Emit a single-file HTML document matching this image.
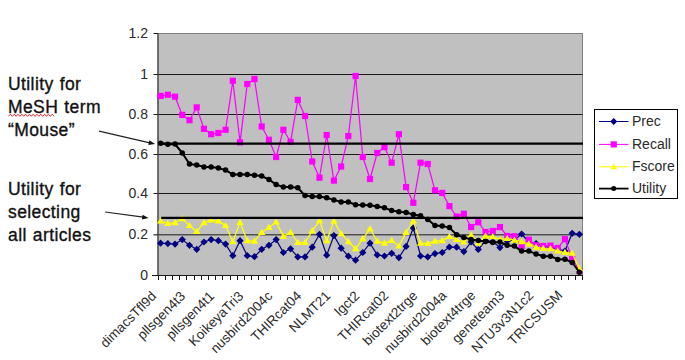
<!DOCTYPE html>
<html><head><meta charset="utf-8"><style>
html,body{margin:0;padding:0;background:#fff;}
body{width:685px;height:360px;overflow:hidden;position:relative;font-family:"Liberation Sans",sans-serif;}
svg{position:absolute;left:0;top:0;}
.ax{font-family:"Liberation Sans",sans-serif;font-size:14px;fill:#2a2a2a;}
.note{position:absolute;left:8px;font-size:17.5px;line-height:23px;color:#111;font-family:"Liberation Sans",sans-serif;white-space:nowrap;letter-spacing:0.4px;word-spacing:0.8px;-webkit-text-stroke:0.35px #111;}
.sq{text-decoration:underline wavy #e03030;text-decoration-thickness:1px;text-underline-offset:2px;}
</style></head><body>
<div class="note" style="top:73px">Utility for<br>MeSH term<br>&ldquo;Mouse&rdquo;</div>
<div class="note" style="top:178px">Utility for<br>selecting<br>all articles</div>
<svg width="685" height="360" viewBox="0 0 685 360">
<rect x="158" y="33.5" width="424.5" height="242" fill="#c0c0c0" stroke="#808080" stroke-width="1"/>
<line x1="153.5" y1="74.5" x2="582.5" y2="74.5" stroke="#1a1a1a" stroke-width="1"/>
<line x1="153.5" y1="114.5" x2="582.5" y2="114.5" stroke="#1a1a1a" stroke-width="1"/>
<line x1="153.5" y1="154.5" x2="582.5" y2="154.5" stroke="#1a1a1a" stroke-width="1"/>
<line x1="153.5" y1="193.5" x2="582.5" y2="193.5" stroke="#1a1a1a" stroke-width="1"/>
<line x1="153.5" y1="234.8" x2="582.5" y2="234.8" stroke="#505050" stroke-width="1.5"/>
<line x1="153.5" y1="33.5" x2="158" y2="33.5" stroke="#1a1a1a" stroke-width="1"/>
<line x1="158" y1="33" x2="158" y2="276" stroke="#404040" stroke-width="1.2"/>
<line x1="152" y1="275.5" x2="582.5" y2="275.5" stroke="#1a1a1a" stroke-width="1"/>
<line x1="158.5" y1="275" x2="158.5" y2="280" stroke="#1a1a1a" stroke-width="1"/>
<line x1="165.5" y1="275" x2="165.5" y2="280" stroke="#1a1a1a" stroke-width="1"/>
<line x1="172.5" y1="275" x2="172.5" y2="280" stroke="#1a1a1a" stroke-width="1"/>
<line x1="179.5" y1="275" x2="179.5" y2="280" stroke="#1a1a1a" stroke-width="1"/>
<line x1="186.5" y1="275" x2="186.5" y2="280" stroke="#1a1a1a" stroke-width="1"/>
<line x1="194.5" y1="275" x2="194.5" y2="280" stroke="#1a1a1a" stroke-width="1"/>
<line x1="201.5" y1="275" x2="201.5" y2="280" stroke="#1a1a1a" stroke-width="1"/>
<line x1="208.5" y1="275" x2="208.5" y2="280" stroke="#1a1a1a" stroke-width="1"/>
<line x1="215.5" y1="275" x2="215.5" y2="280" stroke="#1a1a1a" stroke-width="1"/>
<line x1="222.5" y1="275" x2="222.5" y2="280" stroke="#1a1a1a" stroke-width="1"/>
<line x1="230.5" y1="275" x2="230.5" y2="280" stroke="#1a1a1a" stroke-width="1"/>
<line x1="237.5" y1="275" x2="237.5" y2="280" stroke="#1a1a1a" stroke-width="1"/>
<line x1="244.5" y1="275" x2="244.5" y2="280" stroke="#1a1a1a" stroke-width="1"/>
<line x1="251.5" y1="275" x2="251.5" y2="280" stroke="#1a1a1a" stroke-width="1"/>
<line x1="258.5" y1="275" x2="258.5" y2="280" stroke="#1a1a1a" stroke-width="1"/>
<line x1="266.5" y1="275" x2="266.5" y2="280" stroke="#1a1a1a" stroke-width="1"/>
<line x1="273.5" y1="275" x2="273.5" y2="280" stroke="#1a1a1a" stroke-width="1"/>
<line x1="280.5" y1="275" x2="280.5" y2="280" stroke="#1a1a1a" stroke-width="1"/>
<line x1="287.5" y1="275" x2="287.5" y2="280" stroke="#1a1a1a" stroke-width="1"/>
<line x1="294.5" y1="275" x2="294.5" y2="280" stroke="#1a1a1a" stroke-width="1"/>
<line x1="302.5" y1="275" x2="302.5" y2="280" stroke="#1a1a1a" stroke-width="1"/>
<line x1="309.5" y1="275" x2="309.5" y2="280" stroke="#1a1a1a" stroke-width="1"/>
<line x1="316.5" y1="275" x2="316.5" y2="280" stroke="#1a1a1a" stroke-width="1"/>
<line x1="323.5" y1="275" x2="323.5" y2="280" stroke="#1a1a1a" stroke-width="1"/>
<line x1="330.5" y1="275" x2="330.5" y2="280" stroke="#1a1a1a" stroke-width="1"/>
<line x1="338.5" y1="275" x2="338.5" y2="280" stroke="#1a1a1a" stroke-width="1"/>
<line x1="345.5" y1="275" x2="345.5" y2="280" stroke="#1a1a1a" stroke-width="1"/>
<line x1="352.5" y1="275" x2="352.5" y2="280" stroke="#1a1a1a" stroke-width="1"/>
<line x1="359.5" y1="275" x2="359.5" y2="280" stroke="#1a1a1a" stroke-width="1"/>
<line x1="366.5" y1="275" x2="366.5" y2="280" stroke="#1a1a1a" stroke-width="1"/>
<line x1="374.5" y1="275" x2="374.5" y2="280" stroke="#1a1a1a" stroke-width="1"/>
<line x1="381.5" y1="275" x2="381.5" y2="280" stroke="#1a1a1a" stroke-width="1"/>
<line x1="388.5" y1="275" x2="388.5" y2="280" stroke="#1a1a1a" stroke-width="1"/>
<line x1="395.5" y1="275" x2="395.5" y2="280" stroke="#1a1a1a" stroke-width="1"/>
<line x1="402.5" y1="275" x2="402.5" y2="280" stroke="#1a1a1a" stroke-width="1"/>
<line x1="410.5" y1="275" x2="410.5" y2="280" stroke="#1a1a1a" stroke-width="1"/>
<line x1="417.5" y1="275" x2="417.5" y2="280" stroke="#1a1a1a" stroke-width="1"/>
<line x1="424.5" y1="275" x2="424.5" y2="280" stroke="#1a1a1a" stroke-width="1"/>
<line x1="431.5" y1="275" x2="431.5" y2="280" stroke="#1a1a1a" stroke-width="1"/>
<line x1="438.5" y1="275" x2="438.5" y2="280" stroke="#1a1a1a" stroke-width="1"/>
<line x1="446.5" y1="275" x2="446.5" y2="280" stroke="#1a1a1a" stroke-width="1"/>
<line x1="453.5" y1="275" x2="453.5" y2="280" stroke="#1a1a1a" stroke-width="1"/>
<line x1="460.5" y1="275" x2="460.5" y2="280" stroke="#1a1a1a" stroke-width="1"/>
<line x1="467.5" y1="275" x2="467.5" y2="280" stroke="#1a1a1a" stroke-width="1"/>
<line x1="474.5" y1="275" x2="474.5" y2="280" stroke="#1a1a1a" stroke-width="1"/>
<line x1="482.5" y1="275" x2="482.5" y2="280" stroke="#1a1a1a" stroke-width="1"/>
<line x1="489.5" y1="275" x2="489.5" y2="280" stroke="#1a1a1a" stroke-width="1"/>
<line x1="496.5" y1="275" x2="496.5" y2="280" stroke="#1a1a1a" stroke-width="1"/>
<line x1="503.5" y1="275" x2="503.5" y2="280" stroke="#1a1a1a" stroke-width="1"/>
<line x1="510.5" y1="275" x2="510.5" y2="280" stroke="#1a1a1a" stroke-width="1"/>
<line x1="518.5" y1="275" x2="518.5" y2="280" stroke="#1a1a1a" stroke-width="1"/>
<line x1="525.5" y1="275" x2="525.5" y2="280" stroke="#1a1a1a" stroke-width="1"/>
<line x1="532.5" y1="275" x2="532.5" y2="280" stroke="#1a1a1a" stroke-width="1"/>
<line x1="539.5" y1="275" x2="539.5" y2="280" stroke="#1a1a1a" stroke-width="1"/>
<line x1="546.5" y1="275" x2="546.5" y2="280" stroke="#1a1a1a" stroke-width="1"/>
<line x1="554.5" y1="275" x2="554.5" y2="280" stroke="#1a1a1a" stroke-width="1"/>
<line x1="561.5" y1="275" x2="561.5" y2="280" stroke="#1a1a1a" stroke-width="1"/>
<line x1="568.5" y1="275" x2="568.5" y2="280" stroke="#1a1a1a" stroke-width="1"/>
<line x1="575.5" y1="275" x2="575.5" y2="280" stroke="#1a1a1a" stroke-width="1"/>
<line x1="582.5" y1="275" x2="582.5" y2="280" stroke="#1a1a1a" stroke-width="1"/>
<polyline points="160.61,243.2 167.83,243.6 175.05,244.1 182.27,239.6 189.49,245.3 196.71,249.3 203.93,242 211.15,239.6 218.37,240.7 225.59,244.1 232.81,255.7 240.03,240.7 247.25,255.7 254.47,256.7 261.69,249.3 268.92,245.3 276.14,239.6 283.36,252.5 290.58,248.8 297.8,256.9 305.02,256.9 312.24,247.2 319.46,234.3 326.68,255.2 333.9,235.6 341.12,248.2 348.34,256.2 355.56,260.2 362.78,252.5 370,243.2 377.22,254.9 384.44,256 391.66,253.3 398.88,257.7 406.1,246.4 413.32,228 420.54,256 427.76,256.9 434.98,253.6 442.2,252.5 449.42,247 456.64,247.2 463.86,251.6 471.08,242 478.31,249.5 485.53,240.5 492.75,241.5 499.97,247.6 507.19,241 514.41,240 521.63,234 528.85,242 536.07,243.5 543.29,246.5 550.51,247 557.73,249 564.95,251 572.17,233.3 579.39,234.3" fill="none" stroke="#000080" stroke-width="1.2" stroke-linejoin="round"/>
<path d="M160.61 239.6L164.21 243.2L160.61 246.8L157.01 243.2Z" fill="#000080"/>
<path d="M167.83 240L171.43 243.6L167.83 247.2L164.23 243.6Z" fill="#000080"/>
<path d="M175.05 240.5L178.65 244.1L175.05 247.7L171.45 244.1Z" fill="#000080"/>
<path d="M182.27 236L185.87 239.6L182.27 243.2L178.67 239.6Z" fill="#000080"/>
<path d="M189.49 241.7L193.09 245.3L189.49 248.9L185.89 245.3Z" fill="#000080"/>
<path d="M196.71 245.7L200.31 249.3L196.71 252.9L193.11 249.3Z" fill="#000080"/>
<path d="M203.93 238.4L207.53 242L203.93 245.6L200.33 242Z" fill="#000080"/>
<path d="M211.15 236L214.75 239.6L211.15 243.2L207.55 239.6Z" fill="#000080"/>
<path d="M218.37 237.1L221.97 240.7L218.37 244.3L214.77 240.7Z" fill="#000080"/>
<path d="M225.59 240.5L229.19 244.1L225.59 247.7L221.99 244.1Z" fill="#000080"/>
<path d="M232.81 252.1L236.41 255.7L232.81 259.3L229.21 255.7Z" fill="#000080"/>
<path d="M240.03 237.1L243.63 240.7L240.03 244.3L236.43 240.7Z" fill="#000080"/>
<path d="M247.25 252.1L250.85 255.7L247.25 259.3L243.65 255.7Z" fill="#000080"/>
<path d="M254.47 253.1L258.07 256.7L254.47 260.3L250.87 256.7Z" fill="#000080"/>
<path d="M261.69 245.7L265.29 249.3L261.69 252.9L258.09 249.3Z" fill="#000080"/>
<path d="M268.92 241.7L272.52 245.3L268.92 248.9L265.32 245.3Z" fill="#000080"/>
<path d="M276.14 236L279.74 239.6L276.14 243.2L272.54 239.6Z" fill="#000080"/>
<path d="M283.36 248.9L286.96 252.5L283.36 256.1L279.76 252.5Z" fill="#000080"/>
<path d="M290.58 245.2L294.18 248.8L290.58 252.4L286.98 248.8Z" fill="#000080"/>
<path d="M297.8 253.3L301.4 256.9L297.8 260.5L294.2 256.9Z" fill="#000080"/>
<path d="M305.02 253.3L308.62 256.9L305.02 260.5L301.42 256.9Z" fill="#000080"/>
<path d="M312.24 243.6L315.84 247.2L312.24 250.8L308.64 247.2Z" fill="#000080"/>
<path d="M319.46 230.7L323.06 234.3L319.46 237.9L315.86 234.3Z" fill="#000080"/>
<path d="M326.68 251.6L330.28 255.2L326.68 258.8L323.08 255.2Z" fill="#000080"/>
<path d="M333.9 232L337.5 235.6L333.9 239.2L330.3 235.6Z" fill="#000080"/>
<path d="M341.12 244.6L344.72 248.2L341.12 251.8L337.52 248.2Z" fill="#000080"/>
<path d="M348.34 252.6L351.94 256.2L348.34 259.8L344.74 256.2Z" fill="#000080"/>
<path d="M355.56 256.6L359.16 260.2L355.56 263.8L351.96 260.2Z" fill="#000080"/>
<path d="M362.78 248.9L366.38 252.5L362.78 256.1L359.18 252.5Z" fill="#000080"/>
<path d="M370 239.6L373.6 243.2L370 246.8L366.4 243.2Z" fill="#000080"/>
<path d="M377.22 251.3L380.82 254.9L377.22 258.5L373.62 254.9Z" fill="#000080"/>
<path d="M384.44 252.4L388.04 256L384.44 259.6L380.84 256Z" fill="#000080"/>
<path d="M391.66 249.7L395.26 253.3L391.66 256.9L388.06 253.3Z" fill="#000080"/>
<path d="M398.88 254.1L402.48 257.7L398.88 261.3L395.28 257.7Z" fill="#000080"/>
<path d="M406.1 242.8L409.7 246.4L406.1 250L402.5 246.4Z" fill="#000080"/>
<path d="M413.32 224.4L416.92 228L413.32 231.6L409.72 228Z" fill="#000080"/>
<path d="M420.54 252.4L424.14 256L420.54 259.6L416.94 256Z" fill="#000080"/>
<path d="M427.76 253.3L431.36 256.9L427.76 260.5L424.16 256.9Z" fill="#000080"/>
<path d="M434.98 250L438.58 253.6L434.98 257.2L431.38 253.6Z" fill="#000080"/>
<path d="M442.2 248.9L445.8 252.5L442.2 256.1L438.6 252.5Z" fill="#000080"/>
<path d="M449.42 243.4L453.02 247L449.42 250.6L445.82 247Z" fill="#000080"/>
<path d="M456.64 243.6L460.24 247.2L456.64 250.8L453.04 247.2Z" fill="#000080"/>
<path d="M463.86 248L467.46 251.6L463.86 255.2L460.26 251.6Z" fill="#000080"/>
<path d="M471.08 238.4L474.68 242L471.08 245.6L467.48 242Z" fill="#000080"/>
<path d="M478.31 245.9L481.91 249.5L478.31 253.1L474.71 249.5Z" fill="#000080"/>
<path d="M485.53 236.9L489.13 240.5L485.53 244.1L481.93 240.5Z" fill="#000080"/>
<path d="M492.75 237.9L496.35 241.5L492.75 245.1L489.15 241.5Z" fill="#000080"/>
<path d="M499.97 244L503.57 247.6L499.97 251.2L496.37 247.6Z" fill="#000080"/>
<path d="M507.19 237.4L510.79 241L507.19 244.6L503.59 241Z" fill="#000080"/>
<path d="M514.41 236.4L518.01 240L514.41 243.6L510.81 240Z" fill="#000080"/>
<path d="M521.63 230.4L525.23 234L521.63 237.6L518.03 234Z" fill="#000080"/>
<path d="M528.85 238.4L532.45 242L528.85 245.6L525.25 242Z" fill="#000080"/>
<path d="M536.07 239.9L539.67 243.5L536.07 247.1L532.47 243.5Z" fill="#000080"/>
<path d="M543.29 242.9L546.89 246.5L543.29 250.1L539.69 246.5Z" fill="#000080"/>
<path d="M550.51 243.4L554.11 247L550.51 250.6L546.91 247Z" fill="#000080"/>
<path d="M557.73 245.4L561.33 249L557.73 252.6L554.13 249Z" fill="#000080"/>
<path d="M564.95 247.4L568.55 251L564.95 254.6L561.35 251Z" fill="#000080"/>
<path d="M572.17 229.7L575.77 233.3L572.17 236.9L568.57 233.3Z" fill="#000080"/>
<path d="M579.39 230.7L582.99 234.3L579.39 237.9L575.79 234.3Z" fill="#000080"/>
<polyline points="160.61,95.9 167.83,94.8 175.05,96.7 182.27,114.9 189.49,120.2 196.71,107.4 203.93,128.8 211.15,134.2 218.37,133 225.59,129.8 232.81,80.8 240.03,142.3 247.25,84 254.47,79 261.69,126.5 268.92,139.8 276.14,157 283.36,129.8 290.58,141.9 297.8,99.9 305.02,116 312.24,161.5 319.46,177.7 326.68,135 333.9,180.6 341.12,166.5 348.34,136.1 355.56,76 362.78,157 370,179 377.22,153 384.44,147.1 391.66,162.7 398.88,134.2 406.1,187.1 413.32,202.8 420.54,162.7 427.76,164 434.98,190.3 442.2,192.9 449.42,206.1 456.64,216.6 463.86,213.8 471.08,227 478.31,222.3 485.53,232 492.75,231 499.97,227.1 507.19,236 514.41,236.2 521.63,246.1 528.85,239.7 536.07,245.3 543.29,246 550.51,245.6 557.73,248 564.95,239.2 572.17,258.4 579.39,271" fill="none" stroke="#ff00ff" stroke-width="1.25" stroke-linejoin="round"/>
<rect x="157.51" y="92.8" width="6.2" height="6.2" fill="#ff00ff"/>
<rect x="164.73" y="91.7" width="6.2" height="6.2" fill="#ff00ff"/>
<rect x="171.95" y="93.6" width="6.2" height="6.2" fill="#ff00ff"/>
<rect x="179.17" y="111.8" width="6.2" height="6.2" fill="#ff00ff"/>
<rect x="186.39" y="117.1" width="6.2" height="6.2" fill="#ff00ff"/>
<rect x="193.61" y="104.3" width="6.2" height="6.2" fill="#ff00ff"/>
<rect x="200.83" y="125.7" width="6.2" height="6.2" fill="#ff00ff"/>
<rect x="208.05" y="131.1" width="6.2" height="6.2" fill="#ff00ff"/>
<rect x="215.27" y="129.9" width="6.2" height="6.2" fill="#ff00ff"/>
<rect x="222.49" y="126.7" width="6.2" height="6.2" fill="#ff00ff"/>
<rect x="229.71" y="77.7" width="6.2" height="6.2" fill="#ff00ff"/>
<rect x="236.93" y="139.2" width="6.2" height="6.2" fill="#ff00ff"/>
<rect x="244.15" y="80.9" width="6.2" height="6.2" fill="#ff00ff"/>
<rect x="251.37" y="75.9" width="6.2" height="6.2" fill="#ff00ff"/>
<rect x="258.59" y="123.4" width="6.2" height="6.2" fill="#ff00ff"/>
<rect x="265.82" y="136.7" width="6.2" height="6.2" fill="#ff00ff"/>
<rect x="273.04" y="153.9" width="6.2" height="6.2" fill="#ff00ff"/>
<rect x="280.26" y="126.7" width="6.2" height="6.2" fill="#ff00ff"/>
<rect x="287.48" y="138.8" width="6.2" height="6.2" fill="#ff00ff"/>
<rect x="294.7" y="96.8" width="6.2" height="6.2" fill="#ff00ff"/>
<rect x="301.92" y="112.9" width="6.2" height="6.2" fill="#ff00ff"/>
<rect x="309.14" y="158.4" width="6.2" height="6.2" fill="#ff00ff"/>
<rect x="316.36" y="174.6" width="6.2" height="6.2" fill="#ff00ff"/>
<rect x="323.58" y="131.9" width="6.2" height="6.2" fill="#ff00ff"/>
<rect x="330.8" y="177.5" width="6.2" height="6.2" fill="#ff00ff"/>
<rect x="338.02" y="163.4" width="6.2" height="6.2" fill="#ff00ff"/>
<rect x="345.24" y="133" width="6.2" height="6.2" fill="#ff00ff"/>
<rect x="352.46" y="72.9" width="6.2" height="6.2" fill="#ff00ff"/>
<rect x="359.68" y="153.9" width="6.2" height="6.2" fill="#ff00ff"/>
<rect x="366.9" y="175.9" width="6.2" height="6.2" fill="#ff00ff"/>
<rect x="374.12" y="149.9" width="6.2" height="6.2" fill="#ff00ff"/>
<rect x="381.34" y="144" width="6.2" height="6.2" fill="#ff00ff"/>
<rect x="388.56" y="159.6" width="6.2" height="6.2" fill="#ff00ff"/>
<rect x="395.78" y="131.1" width="6.2" height="6.2" fill="#ff00ff"/>
<rect x="403" y="184" width="6.2" height="6.2" fill="#ff00ff"/>
<rect x="410.22" y="199.7" width="6.2" height="6.2" fill="#ff00ff"/>
<rect x="417.44" y="159.6" width="6.2" height="6.2" fill="#ff00ff"/>
<rect x="424.66" y="160.9" width="6.2" height="6.2" fill="#ff00ff"/>
<rect x="431.88" y="187.2" width="6.2" height="6.2" fill="#ff00ff"/>
<rect x="439.1" y="189.8" width="6.2" height="6.2" fill="#ff00ff"/>
<rect x="446.32" y="203" width="6.2" height="6.2" fill="#ff00ff"/>
<rect x="453.54" y="213.5" width="6.2" height="6.2" fill="#ff00ff"/>
<rect x="460.76" y="210.7" width="6.2" height="6.2" fill="#ff00ff"/>
<rect x="467.98" y="223.9" width="6.2" height="6.2" fill="#ff00ff"/>
<rect x="475.21" y="219.2" width="6.2" height="6.2" fill="#ff00ff"/>
<rect x="482.43" y="228.9" width="6.2" height="6.2" fill="#ff00ff"/>
<rect x="489.65" y="227.9" width="6.2" height="6.2" fill="#ff00ff"/>
<rect x="496.87" y="224" width="6.2" height="6.2" fill="#ff00ff"/>
<rect x="504.09" y="232.9" width="6.2" height="6.2" fill="#ff00ff"/>
<rect x="511.31" y="233.1" width="6.2" height="6.2" fill="#ff00ff"/>
<rect x="518.53" y="243" width="6.2" height="6.2" fill="#ff00ff"/>
<rect x="525.75" y="236.6" width="6.2" height="6.2" fill="#ff00ff"/>
<rect x="532.97" y="242.2" width="6.2" height="6.2" fill="#ff00ff"/>
<rect x="540.19" y="242.9" width="6.2" height="6.2" fill="#ff00ff"/>
<rect x="547.41" y="242.5" width="6.2" height="6.2" fill="#ff00ff"/>
<rect x="554.63" y="244.9" width="6.2" height="6.2" fill="#ff00ff"/>
<rect x="561.85" y="236.1" width="6.2" height="6.2" fill="#ff00ff"/>
<rect x="569.07" y="255.3" width="6.2" height="6.2" fill="#ff00ff"/>
<rect x="576.29" y="267.9" width="6.2" height="6.2" fill="#ff00ff"/>
<polyline points="160.61,221.1 167.83,223.5 175.05,222.7 182.27,218.7 189.49,225.6 196.71,231.6 203.93,222.7 211.15,220 218.37,221.1 225.59,225.6 232.81,241.7 240.03,222.4 247.25,240.7 254.47,241.2 261.69,232.4 268.92,227.5 276.14,221.9 283.36,236.4 290.58,232.4 297.8,242.5 305.02,242.5 312.24,230.8 319.46,220.8 326.68,240.7 333.9,221.1 341.12,233.7 348.34,241.7 355.56,248.8 362.78,238.8 370,228.8 377.22,241.2 384.44,243.2 391.66,240.4 398.88,246.1 406.1,232.4 413.32,221.1 420.54,243.2 427.76,243.6 434.98,241.2 442.2,240.7 449.42,236.6 456.64,239.5 463.86,242 471.08,235.3 478.31,243 485.53,236.3 492.75,236.8 499.97,239.4 507.19,238.6 514.41,240.2 521.63,241.7 528.85,243.9 536.07,247.2 543.29,248.5 550.51,248.8 557.73,251 564.95,252.5 572.17,253.3 579.39,268.5" fill="none" stroke="#ffff00" stroke-width="1.25" stroke-linejoin="round"/>
<path d="M160.61 217.4L164.31 223.6L156.91 223.6Z" fill="#ffff00"/>
<path d="M167.83 219.8L171.53 226L164.13 226Z" fill="#ffff00"/>
<path d="M175.05 219L178.75 225.2L171.35 225.2Z" fill="#ffff00"/>
<path d="M182.27 215L185.97 221.2L178.57 221.2Z" fill="#ffff00"/>
<path d="M189.49 221.9L193.19 228.1L185.79 228.1Z" fill="#ffff00"/>
<path d="M196.71 227.9L200.41 234.1L193.01 234.1Z" fill="#ffff00"/>
<path d="M203.93 219L207.63 225.2L200.23 225.2Z" fill="#ffff00"/>
<path d="M211.15 216.3L214.85 222.5L207.45 222.5Z" fill="#ffff00"/>
<path d="M218.37 217.4L222.07 223.6L214.67 223.6Z" fill="#ffff00"/>
<path d="M225.59 221.9L229.29 228.1L221.89 228.1Z" fill="#ffff00"/>
<path d="M232.81 238L236.51 244.2L229.11 244.2Z" fill="#ffff00"/>
<path d="M240.03 218.7L243.73 224.9L236.33 224.9Z" fill="#ffff00"/>
<path d="M247.25 237L250.95 243.2L243.55 243.2Z" fill="#ffff00"/>
<path d="M254.47 237.5L258.17 243.7L250.77 243.7Z" fill="#ffff00"/>
<path d="M261.69 228.7L265.39 234.9L257.99 234.9Z" fill="#ffff00"/>
<path d="M268.92 223.8L272.62 230L265.22 230Z" fill="#ffff00"/>
<path d="M276.14 218.2L279.84 224.4L272.44 224.4Z" fill="#ffff00"/>
<path d="M283.36 232.7L287.06 238.9L279.66 238.9Z" fill="#ffff00"/>
<path d="M290.58 228.7L294.28 234.9L286.88 234.9Z" fill="#ffff00"/>
<path d="M297.8 238.8L301.5 245L294.1 245Z" fill="#ffff00"/>
<path d="M305.02 238.8L308.72 245L301.32 245Z" fill="#ffff00"/>
<path d="M312.24 227.1L315.94 233.3L308.54 233.3Z" fill="#ffff00"/>
<path d="M319.46 217.1L323.16 223.3L315.76 223.3Z" fill="#ffff00"/>
<path d="M326.68 237L330.38 243.2L322.98 243.2Z" fill="#ffff00"/>
<path d="M333.9 217.4L337.6 223.6L330.2 223.6Z" fill="#ffff00"/>
<path d="M341.12 230L344.82 236.2L337.42 236.2Z" fill="#ffff00"/>
<path d="M348.34 238L352.04 244.2L344.64 244.2Z" fill="#ffff00"/>
<path d="M355.56 245.1L359.26 251.3L351.86 251.3Z" fill="#ffff00"/>
<path d="M362.78 235.1L366.48 241.3L359.08 241.3Z" fill="#ffff00"/>
<path d="M370 225.1L373.7 231.3L366.3 231.3Z" fill="#ffff00"/>
<path d="M377.22 237.5L380.92 243.7L373.52 243.7Z" fill="#ffff00"/>
<path d="M384.44 239.5L388.14 245.7L380.74 245.7Z" fill="#ffff00"/>
<path d="M391.66 236.7L395.36 242.9L387.96 242.9Z" fill="#ffff00"/>
<path d="M398.88 242.4L402.58 248.6L395.18 248.6Z" fill="#ffff00"/>
<path d="M406.1 228.7L409.8 234.9L402.4 234.9Z" fill="#ffff00"/>
<path d="M413.32 217.4L417.02 223.6L409.62 223.6Z" fill="#ffff00"/>
<path d="M420.54 239.5L424.24 245.7L416.84 245.7Z" fill="#ffff00"/>
<path d="M427.76 239.9L431.46 246.1L424.06 246.1Z" fill="#ffff00"/>
<path d="M434.98 237.5L438.68 243.7L431.28 243.7Z" fill="#ffff00"/>
<path d="M442.2 237L445.9 243.2L438.5 243.2Z" fill="#ffff00"/>
<path d="M449.42 232.9L453.12 239.1L445.72 239.1Z" fill="#ffff00"/>
<path d="M456.64 235.8L460.34 242L452.94 242Z" fill="#ffff00"/>
<path d="M463.86 238.3L467.56 244.5L460.16 244.5Z" fill="#ffff00"/>
<path d="M471.08 231.6L474.78 237.8L467.38 237.8Z" fill="#ffff00"/>
<path d="M478.31 239.3L482.01 245.5L474.61 245.5Z" fill="#ffff00"/>
<path d="M485.53 232.6L489.23 238.8L481.83 238.8Z" fill="#ffff00"/>
<path d="M492.75 233.1L496.45 239.3L489.05 239.3Z" fill="#ffff00"/>
<path d="M499.97 235.7L503.67 241.9L496.27 241.9Z" fill="#ffff00"/>
<path d="M507.19 234.9L510.89 241.1L503.49 241.1Z" fill="#ffff00"/>
<path d="M514.41 236.5L518.11 242.7L510.71 242.7Z" fill="#ffff00"/>
<path d="M521.63 238L525.33 244.2L517.93 244.2Z" fill="#ffff00"/>
<path d="M528.85 240.2L532.55 246.4L525.15 246.4Z" fill="#ffff00"/>
<path d="M536.07 243.5L539.77 249.7L532.37 249.7Z" fill="#ffff00"/>
<path d="M543.29 244.8L546.99 251L539.59 251Z" fill="#ffff00"/>
<path d="M550.51 245.1L554.21 251.3L546.81 251.3Z" fill="#ffff00"/>
<path d="M557.73 247.3L561.43 253.5L554.03 253.5Z" fill="#ffff00"/>
<path d="M564.95 248.8L568.65 255L561.25 255Z" fill="#ffff00"/>
<path d="M572.17 249.6L575.87 255.8L568.47 255.8Z" fill="#ffff00"/>
<path d="M579.39 264.8L583.09 271L575.69 271Z" fill="#ffff00"/>
<polyline points="160.61,143.3 167.83,144.3 175.05,144.1 182.27,153 189.49,164 196.71,165 203.93,166.9 211.15,166.9 218.37,168 225.59,170.1 232.81,174.5 240.03,174.5 247.25,174.5 254.47,175.2 261.69,176.1 268.92,179.5 276.14,184.6 283.36,187 290.58,187 297.8,187.8 305.02,195.6 312.24,196.4 319.46,196.4 326.68,197.8 333.9,199.9 341.12,202 348.34,202 355.56,204.8 362.78,205 370,205.3 377.22,206.5 384.44,207.7 391.66,210.6 398.88,211.7 406.1,212.5 413.32,214.5 420.54,215.8 427.76,219.6 434.98,225.5 442.2,225.9 449.42,227.6 456.64,234.8 463.86,237.5 471.08,239.4 478.31,240.4 485.53,241.4 492.75,242.5 499.97,242 507.19,245.3 514.41,246.1 521.63,251.1 528.85,251.1 536.07,253.9 543.29,256.2 550.51,256.2 557.73,259.4 564.95,259.2 572.17,262.5 579.39,272.2" fill="none" stroke="#000" stroke-width="2" stroke-linejoin="round"/>
<circle cx="160.61" cy="143.3" r="2.75" fill="#000"/>
<circle cx="167.83" cy="144.3" r="2.75" fill="#000"/>
<circle cx="175.05" cy="144.1" r="2.75" fill="#000"/>
<circle cx="182.27" cy="153" r="2.75" fill="#000"/>
<circle cx="189.49" cy="164" r="2.75" fill="#000"/>
<circle cx="196.71" cy="165" r="2.75" fill="#000"/>
<circle cx="203.93" cy="166.9" r="2.75" fill="#000"/>
<circle cx="211.15" cy="166.9" r="2.75" fill="#000"/>
<circle cx="218.37" cy="168" r="2.75" fill="#000"/>
<circle cx="225.59" cy="170.1" r="2.75" fill="#000"/>
<circle cx="232.81" cy="174.5" r="2.75" fill="#000"/>
<circle cx="240.03" cy="174.5" r="2.75" fill="#000"/>
<circle cx="247.25" cy="174.5" r="2.75" fill="#000"/>
<circle cx="254.47" cy="175.2" r="2.75" fill="#000"/>
<circle cx="261.69" cy="176.1" r="2.75" fill="#000"/>
<circle cx="268.92" cy="179.5" r="2.75" fill="#000"/>
<circle cx="276.14" cy="184.6" r="2.75" fill="#000"/>
<circle cx="283.36" cy="187" r="2.75" fill="#000"/>
<circle cx="290.58" cy="187" r="2.75" fill="#000"/>
<circle cx="297.8" cy="187.8" r="2.75" fill="#000"/>
<circle cx="305.02" cy="195.6" r="2.75" fill="#000"/>
<circle cx="312.24" cy="196.4" r="2.75" fill="#000"/>
<circle cx="319.46" cy="196.4" r="2.75" fill="#000"/>
<circle cx="326.68" cy="197.8" r="2.75" fill="#000"/>
<circle cx="333.9" cy="199.9" r="2.75" fill="#000"/>
<circle cx="341.12" cy="202" r="2.75" fill="#000"/>
<circle cx="348.34" cy="202" r="2.75" fill="#000"/>
<circle cx="355.56" cy="204.8" r="2.75" fill="#000"/>
<circle cx="362.78" cy="205" r="2.75" fill="#000"/>
<circle cx="370" cy="205.3" r="2.75" fill="#000"/>
<circle cx="377.22" cy="206.5" r="2.75" fill="#000"/>
<circle cx="384.44" cy="207.7" r="2.75" fill="#000"/>
<circle cx="391.66" cy="210.6" r="2.75" fill="#000"/>
<circle cx="398.88" cy="211.7" r="2.75" fill="#000"/>
<circle cx="406.1" cy="212.5" r="2.75" fill="#000"/>
<circle cx="413.32" cy="214.5" r="2.75" fill="#000"/>
<circle cx="420.54" cy="215.8" r="2.75" fill="#000"/>
<circle cx="427.76" cy="219.6" r="2.75" fill="#000"/>
<circle cx="434.98" cy="225.5" r="2.75" fill="#000"/>
<circle cx="442.2" cy="225.9" r="2.75" fill="#000"/>
<circle cx="449.42" cy="227.6" r="2.75" fill="#000"/>
<circle cx="456.64" cy="234.8" r="2.75" fill="#000"/>
<circle cx="463.86" cy="237.5" r="2.75" fill="#000"/>
<circle cx="471.08" cy="239.4" r="2.75" fill="#000"/>
<circle cx="478.31" cy="240.4" r="2.75" fill="#000"/>
<circle cx="485.53" cy="241.4" r="2.75" fill="#000"/>
<circle cx="492.75" cy="242.5" r="2.75" fill="#000"/>
<circle cx="499.97" cy="242" r="2.75" fill="#000"/>
<circle cx="507.19" cy="245.3" r="2.75" fill="#000"/>
<circle cx="514.41" cy="246.1" r="2.75" fill="#000"/>
<circle cx="521.63" cy="251.1" r="2.75" fill="#000"/>
<circle cx="528.85" cy="251.1" r="2.75" fill="#000"/>
<circle cx="536.07" cy="253.9" r="2.75" fill="#000"/>
<circle cx="543.29" cy="256.2" r="2.75" fill="#000"/>
<circle cx="550.51" cy="256.2" r="2.75" fill="#000"/>
<circle cx="557.73" cy="259.4" r="2.75" fill="#000"/>
<circle cx="564.95" cy="259.2" r="2.75" fill="#000"/>
<circle cx="572.17" cy="262.5" r="2.75" fill="#000"/>
<circle cx="579.39" cy="272.2" r="2.75" fill="#000"/>
<line x1="158.5" y1="143.6" x2="583" y2="143.6" stroke="#000" stroke-width="2.2"/>
<line x1="161.2" y1="217.9" x2="583" y2="217.9" stroke="#000" stroke-width="2.2"/>
<text x="148" y="38" text-anchor="end" class="ax">1.2</text>
<text x="148" y="79" text-anchor="end" class="ax">1</text>
<text x="148" y="119" text-anchor="end" class="ax">0.8</text>
<text x="148" y="159" text-anchor="end" class="ax">0.6</text>
<text x="148" y="198" text-anchor="end" class="ax">0.4</text>
<text x="148" y="239" text-anchor="end" class="ax">0.2</text>
<text x="148" y="280" text-anchor="end" class="ax">0</text>
<text transform="translate(153.81,293.7) rotate(-45)" text-anchor="end" class="ax" style="font-size:13.5px" dy="0.35em">dimacsTfl9d</text>
<text transform="translate(182.82,293.63) rotate(-45)" text-anchor="end" class="ax" style="font-size:13.5px" dy="0.35em">pllsgen4t3</text>
<text transform="translate(211.83,293.56) rotate(-45)" text-anchor="end" class="ax" style="font-size:13.5px" dy="0.35em">pllsgen4t1</text>
<text transform="translate(240.84,293.49) rotate(-45)" text-anchor="end" class="ax" style="font-size:13.5px" dy="0.35em">KoikeyaTri3</text>
<text transform="translate(269.86,293.42) rotate(-45)" text-anchor="end" class="ax" style="font-size:13.5px" dy="0.35em">nusbird2004c</text>
<text transform="translate(298.87,293.35) rotate(-45)" text-anchor="end" class="ax" style="font-size:13.5px" dy="0.35em">THIRcat04</text>
<text transform="translate(327.88,293.28) rotate(-45)" text-anchor="end" class="ax" style="font-size:13.5px" dy="0.35em">NLMT21</text>
<text transform="translate(356.89,293.21) rotate(-45)" text-anchor="end" class="ax" style="font-size:13.5px" dy="0.35em">lgct2</text>
<text transform="translate(385.9,293.14) rotate(-45)" text-anchor="end" class="ax" style="font-size:13.5px" dy="0.35em">THIRcat02</text>
<text transform="translate(414.91,293.07) rotate(-45)" text-anchor="end" class="ax" style="font-size:13.5px" dy="0.35em">biotext2trge</text>
<text transform="translate(443.92,293) rotate(-45)" text-anchor="end" class="ax" style="font-size:13.5px" dy="0.35em">nusbird2004a</text>
<text transform="translate(472.94,292.93) rotate(-45)" text-anchor="end" class="ax" style="font-size:13.5px" dy="0.35em">biotext4trge</text>
<text transform="translate(501.95,292.86) rotate(-45)" text-anchor="end" class="ax" style="font-size:13.5px" dy="0.35em">geneteam3</text>
<text transform="translate(530.96,292.79) rotate(-45)" text-anchor="end" class="ax" style="font-size:13.5px" dy="0.35em">NTU3v3N1c2</text>
<text transform="translate(559.97,292.72) rotate(-45)" text-anchor="end" class="ax" style="font-size:13.5px" dy="0.35em">TRICSUSM</text>
<rect x="594.5" y="109.5" width="83" height="89" fill="#fff" stroke="#000" stroke-width="1"/>
<line x1="599" y1="121.5" x2="628.5" y2="121.5" stroke="#000080" stroke-width="1"/>
<path d="M613.7 117.9L617.3 121.5L613.7 125.1L610.1 121.5Z" fill="#000080"/>
<text x="632" y="126.1" class="ax">Prec</text>
<line x1="599" y1="144.4" x2="628.5" y2="144.4" stroke="#ff00ff" stroke-width="1"/>
<rect x="610.6" y="141.3" width="6.2" height="6.2" fill="#ff00ff"/>
<text x="632" y="149" class="ax">Recall</text>
<line x1="599" y1="166.8" x2="628.5" y2="166.8" stroke="#ffff00" stroke-width="1"/>
<path d="M613.7 163.4L616.9 169.2L610.5 169.2Z" fill="#ffff00"/>
<text x="632" y="171.4" class="ax">Fscore</text>
<line x1="599" y1="188.6" x2="628.5" y2="188.6" stroke="#000" stroke-width="1.8"/>
<circle cx="613.7" cy="188.6" r="2.5" fill="#000"/>
<text x="632" y="193.2" class="ax">Utility</text>
<polyline points="8.5,116.3 10.4,114.2 12.3,116.3 14.2,114.2 16.1,116.3 18,114.2 19.9,116.3 21.8,114.2 23.7,116.3 25.6,114.2 27.5,116.3 29.4,114.2 31.3,116.3 33.2,114.2 35.1,116.3 37,114.2 38.9,116.3 40.8,114.2 42.7,116.3 44.6,114.2 46.5,116.3 48.4,114.2 50.3,116.3 52.2,114.2 54.1,116.3" fill="none" stroke="#e82828" stroke-width="1"/>
<line x1="99.1" y1="131.2" x2="149.83" y2="142.82" stroke="#222" stroke-width="1.2"/>
<path d="M155 144L148.32 144.93L149.39 140.25Z" fill="#111"/>
<line x1="105.2" y1="212" x2="143.25" y2="217.18" stroke="#222" stroke-width="1.2"/>
<path d="M148.5 217.9L141.93 219.43L142.58 214.67Z" fill="#111"/>
</svg>
</body></html>
